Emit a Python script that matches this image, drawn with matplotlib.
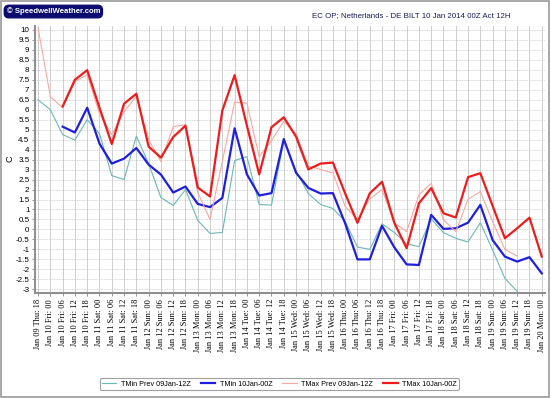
import numpy as np
import matplotlib
matplotlib.use("Agg")
import matplotlib.pyplot as plt
from matplotlib.patches import Rectangle

nan = np.nan

# tick labels, every 6 hours from Jan 09 18Z to Jan 20 00Z
days = ["Jan 09 Thu", "Jan 10 Fri", "Jan 11 Sat", "Jan 12 Sun", "Jan 13 Mon", "Jan 14 Tue",
        "Jan 15 Wed", "Jan 16 Thu", "Jan 17 Fri", "Jan 18 Sat", "Jan 19 Sun", "Jan 20 Mon"]
labels = [days[0] + ": 18"]
for d in days[1:-1]:
    for h in ["00", "06", "12", "18"]:
        labels.append(d + ": " + h)
labels.append(days[-1] + ": 00")

tmin_prev = [6.5, 6.0, 4.75, 4.48, 5.5, 4.8, 2.7, 2.5, 4.68, 3.3,
             1.6, 1.2, 2.0, 0.45, -0.2, -0.15, 3.45, 3.65, 1.25, 1.22,
             4.45, 2.93, 1.8, 1.25, 1.05, 0.4, -0.88, -1.0, 0.28, -0.15,
             -0.72, -0.86, 0.53, -0.16, -0.44, -0.63, 0.34, -1.03, -2.45, -3.1,
             nan, nan]
tmin = [nan, nan, 5.15, 4.86, 6.1, 4.3, 3.3, 3.55, 4.08, 3.25,
        2.75, 1.85, 2.15, 1.28, 1.12, 1.58, 5.07, 2.76, 1.7, 1.82,
        4.53, 2.84, 2.08, 1.8, 1.82, 0.3, -1.5, -1.5, 0.18, -0.9,
        -1.75, -1.78, 0.73, 0.03, 0.06, 0.34, 1.23, -0.53, -1.36, -1.61,
        -1.39, -2.2]
tmax_prev = [10.1, 6.65, 6.1, 7.4, 7.75, 5.8, 4.75, 5.9, 6.67, 4.5,
             3.4, 5.15, 5.25, 1.85, 0.5, 3.4, 6.38, 6.33, 3.64, 4.44,
             5.42, 4.78, 3.18, 3.0, 2.83, 1.15, 0.5, 1.53, 2.0, 0.33,
             -0.11, 1.73, 2.31, 0.48, -0.11, 1.51, 1.9, 0.39, -1.0, -1.33,
             nan, nan]
tmax = [nan, nan, 6.16, 7.5, 7.98, 6.1, 4.28, 6.3, 6.8, 4.15,
        3.6, 4.63, 5.2, 2.1, 1.65, 5.96, 7.73, 5.2, 2.76, 5.12,
        5.62, 4.65, 3.01, 3.3, 3.35, 1.8, 0.33, 1.81, 2.39, 0.33,
        -0.94, 1.31, 2.07, 0.81, 0.6, 2.62, 2.82, 1.18, -0.44, 0.06,
        0.59, -1.36]

x = np.arange(len(labels))

plt.rcParams["font.family"] = ["Liberation Sans", "DejaVu Sans"]

fig = plt.figure(figsize=(5.5, 3.98), dpi=100)
ax = fig.add_axes([0.0636, 0.263, 0.927, 0.672])

ax.plot(x, tmin_prev, color="#6cb8b4", lw=0.8, label="TMin Prev 09Jan-12Z")
ax.plot(x, tmin, color="#1f1fe0", lw=1.6, label="TMin 10Jan-00Z")
ax.plot(x, tmax_prev, color="#f8a8a0", lw=0.8, label="TMax Prev 09Jan-12Z")
ax.plot(x, tmax, color="#ee1c1c", lw=1.6, label="TMax 10Jan-00Z")

ax.set_xlim(-0.25, len(labels) - 0.75)
ax.set_ylim(-3.2, 10.2)
yt = np.arange(-3, 10.01, 0.5)
ax.set_yticks(yt)
ax.set_yticklabels(["%g" % v for v in yt], fontsize=5.8)
ax.set_xticks(x)
ax.set_xticklabels(labels, rotation=90, fontsize=6, family="Liberation Serif")
ax.tick_params(axis="both", length=2, width=0.6, color="#888888", pad=2)

ax.grid(axis="x", color="#c8c8c8", lw=0.6)
ax.grid(axis="y", color="#c8c8c8", lw=0.6, ls=(0, (1, 1)))
for s in ["top", "right"]:
    ax.spines[s].set_visible(False)
for s in ["left", "bottom"]:
    ax.spines[s].set_color("#909090")
    ax.spines[s].set_linewidth(1.5)

fig.text(0.019, 0.6, "C", fontsize=6.5, rotation=90, ha="center", va="center")

leg = ax.legend(loc="center", bbox_to_anchor=(0.508, 0.035), bbox_transform=fig.transFigure,
                ncol=4, fontsize=5.2, frameon=True, fancybox=True, handlelength=2.0,
                columnspacing=1.4, handletextpad=0.6, borderpad=0.3)
leg.get_frame().set_edgecolor("#888888")
leg.get_frame().set_linewidth(0.8)

fig.text(0.097, 0.971, "\u00a9 SpeedwellWeather.com", fontsize=5.6, color="white", weight="bold",
         ha="center", va="center",
         bbox=dict(boxstyle="round,pad=0.3,rounding_size=0.6", fc="#0c0c70", ec="#0c0c70"))
fig.text(0.928, 0.962, "EC OP; Netherlands - DE BILT 10 Jan 2014 00Z Act 12H", fontsize=5.7,
         color="#1c1c5c", ha="right", va="center")

fig.patches.append(Rectangle((0.002, 0.003), 0.996, 0.994, transform=fig.transFigure,
                             fill=False, ec="#999999", lw=1.2))

fig.savefig("out.png", dpi=100)
plt.close(fig)
